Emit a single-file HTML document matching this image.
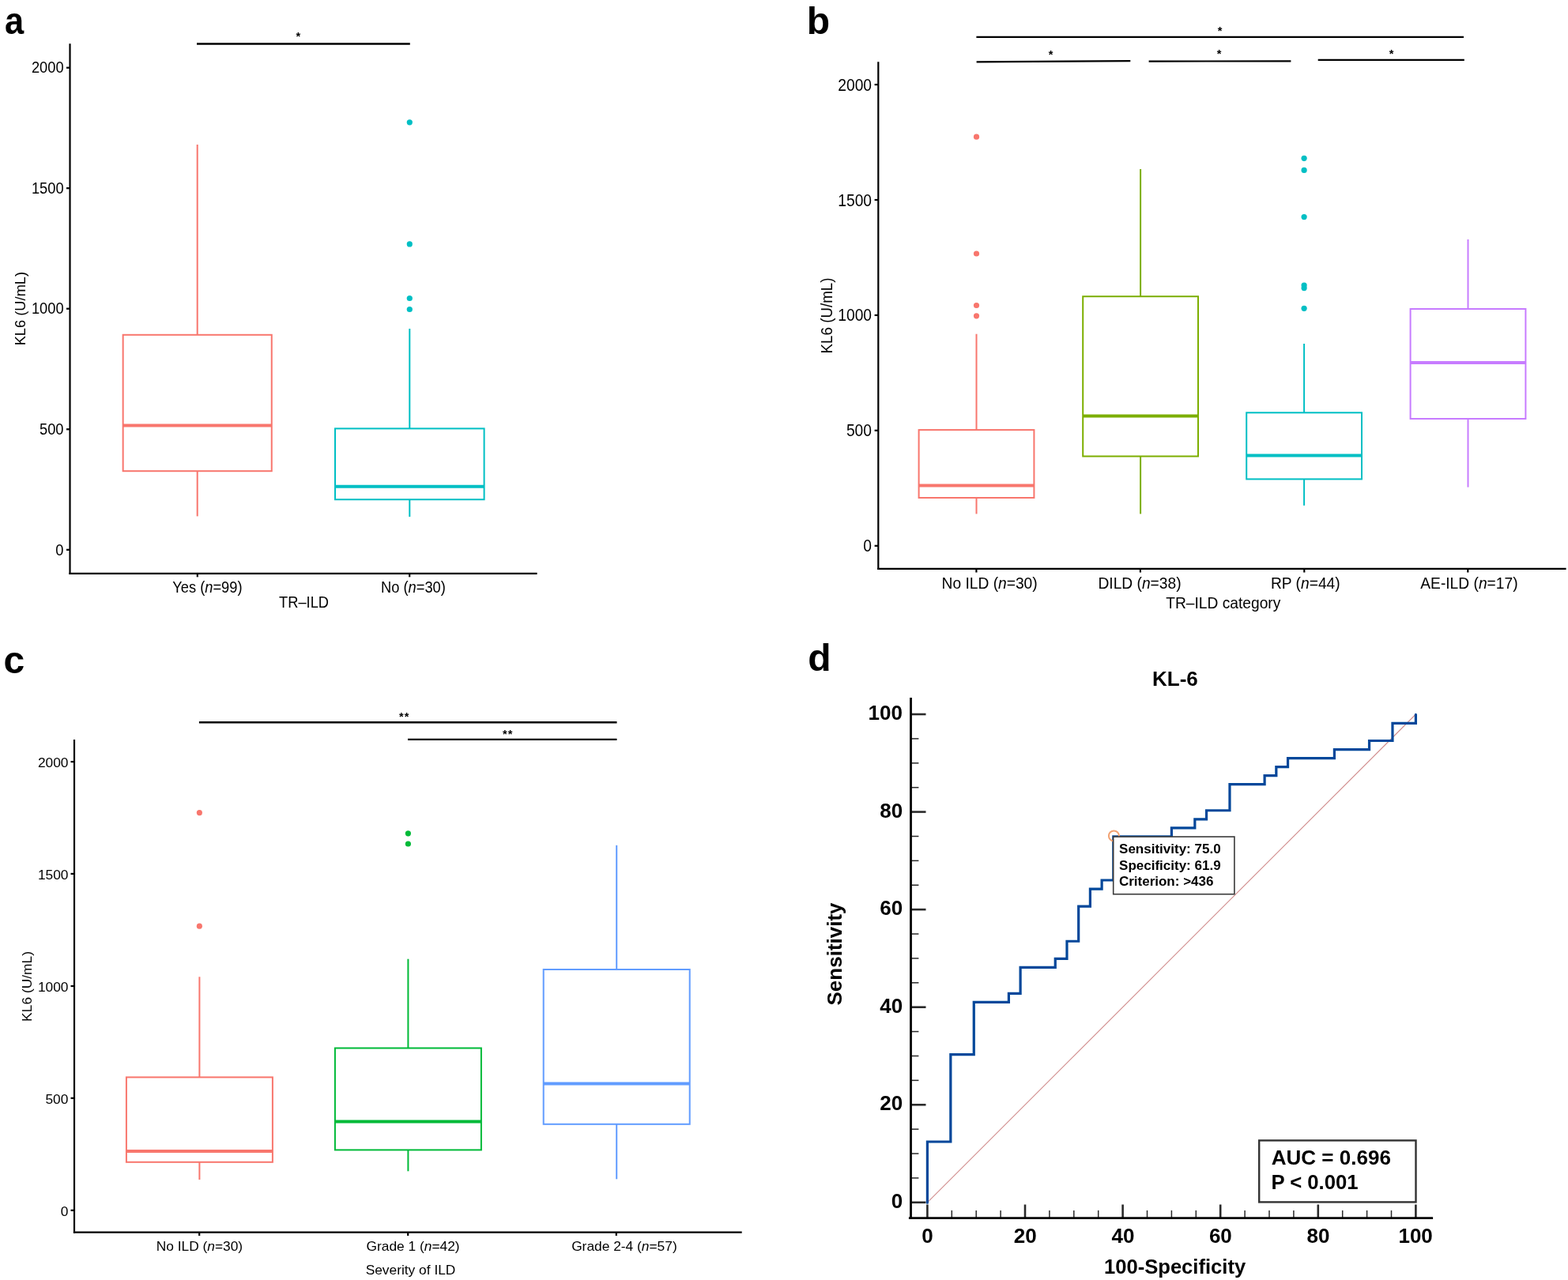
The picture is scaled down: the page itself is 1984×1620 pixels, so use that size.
<!DOCTYPE html>
<html><head><meta charset="utf-8"><title>KL-6 figure</title>
<style>html,body{margin:0;padding:0;background:#fff;} svg{display:block;} text{font-family:"Liberation Sans",Arial,sans-serif;fill:#000;}</style>
</head><body>
<svg width="1984" height="1620" viewBox="0 0 1984 1620">
<rect width="1984" height="1620" fill="#fff"/>
<text x="5.96" y="43.1" font-size="48" font-weight="bold" transform="translate(7.4 0) scale(0.905 1) translate(-7.4 0)">a</text>
<line x1="88.50" y1="55.20" x2="88.50" y2="726.90" stroke="#000" stroke-width="2.2" stroke-linecap="butt"/>
<line x1="87.40" y1="725.80" x2="679.60" y2="725.80" stroke="#000" stroke-width="2.2" stroke-linecap="butt"/>
<line x1="84.00" y1="85.70" x2="88.50" y2="85.70" stroke="#000" stroke-width="2.2" stroke-linecap="butt"/>
<text x="39.91" y="92.50" font-size="18.3" transform="matrix(1 0 0 1.11 0 -10.175)">2000</text>
<line x1="84.00" y1="238.20" x2="88.50" y2="238.20" stroke="#000" stroke-width="2.2" stroke-linecap="butt"/>
<text x="39.91" y="245.00" font-size="18.3" transform="matrix(1 0 0 1.11 0 -26.950)">1500</text>
<line x1="84.00" y1="390.70" x2="88.50" y2="390.70" stroke="#000" stroke-width="2.2" stroke-linecap="butt"/>
<text x="39.91" y="397.50" font-size="18.3" transform="matrix(1 0 0 1.11 0 -43.725)">1000</text>
<line x1="84.00" y1="543.30" x2="88.50" y2="543.30" stroke="#000" stroke-width="2.2" stroke-linecap="butt"/>
<text x="49.97" y="550.10" font-size="18.3" transform="matrix(1 0 0 1.11 0 -60.511)">500</text>
<line x1="84.00" y1="695.80" x2="88.50" y2="695.80" stroke="#000" stroke-width="2.2" stroke-linecap="butt"/>
<text x="70.28" y="702.60" font-size="18.3" transform="matrix(1 0 0 1.11 0 -77.286)">0</text>
<line x1="249.80" y1="725.80" x2="249.80" y2="730.30" stroke="#000" stroke-width="2.2" stroke-linecap="butt"/>
<line x1="518.20" y1="725.80" x2="518.20" y2="730.30" stroke="#000" stroke-width="2.2" stroke-linecap="butt"/>
<text x="218.25" y="749.60" font-size="18.3" transform="matrix(1 0 0 1.055 0 -41.228)">Yes (<tspan font-style='italic'>n</tspan>=99)</text>
<text x="482.04" y="749.60" font-size="18.3" transform="matrix(1 0 0 1.055 0 -41.228)">No (<tspan font-style='italic'>n</tspan>=30)</text>
<text x="353.03" y="768.80" font-size="18.3" transform="matrix(1 0 0 1.055 0 -42.284)">TR–ILD</text>
<text x="0" y="0" font-size="18.3" transform="translate(32.00 437.36) rotate(-90) scale(1 1.03)">KL6 (U/mL)</text>
<line x1="249.00" y1="55.50" x2="518.80" y2="55.50" stroke="#000" stroke-width="2.3" stroke-linecap="butt"/>
<text x="374.57" y="51.32" font-size="14.5" font-weight="bold">*</text>
<line x1="249.70" y1="183.00" x2="249.70" y2="423.80" stroke="#F8766D" stroke-width="2" stroke-linecap="butt"/>
<line x1="249.70" y1="596.20" x2="249.70" y2="653.40" stroke="#F8766D" stroke-width="2" stroke-linecap="butt"/>
<rect x="155.65" y="423.80" width="188.10" height="172.40" fill="none" stroke="#F8766D" stroke-width="2"/>
<line x1="155.65" y1="538.50" x2="343.75" y2="538.50" stroke="#F8766D" stroke-width="4" stroke-linecap="butt"/>
<line x1="518.30" y1="416.00" x2="518.30" y2="542.40" stroke="#00BFC4" stroke-width="2" stroke-linecap="butt"/>
<line x1="518.30" y1="632.20" x2="518.30" y2="654.00" stroke="#00BFC4" stroke-width="2" stroke-linecap="butt"/>
<rect x="424.00" y="542.40" width="188.60" height="89.80" fill="none" stroke="#00BFC4" stroke-width="2"/>
<line x1="424.00" y1="615.80" x2="612.60" y2="615.80" stroke="#00BFC4" stroke-width="4" stroke-linecap="butt"/>
<circle cx="518.30" cy="154.80" r="3.6" fill="#00BFC4"/>
<circle cx="518.30" cy="308.90" r="3.6" fill="#00BFC4"/>
<circle cx="518.30" cy="377.50" r="3.6" fill="#00BFC4"/>
<circle cx="518.30" cy="391.50" r="3.6" fill="#00BFC4"/>
<text x="1020.84" y="43.10" font-size="48" font-weight="bold">b</text>
<line x1="1111.30" y1="78.30" x2="1111.30" y2="721.00" stroke="#000" stroke-width="2.2" stroke-linecap="butt"/>
<line x1="1110.20" y1="719.90" x2="1981.60" y2="719.90" stroke="#000" stroke-width="2.2" stroke-linecap="butt"/>
<line x1="1106.60" y1="107.10" x2="1111.30" y2="107.10" stroke="#000" stroke-width="2.2" stroke-linecap="butt"/>
<text x="1060.34" y="114.70" font-size="19.2" transform="matrix(1 0 0 1.16 0 -18.352)">2000</text>
<line x1="1106.60" y1="253.00" x2="1111.30" y2="253.00" stroke="#000" stroke-width="2.2" stroke-linecap="butt"/>
<text x="1060.34" y="260.60" font-size="19.2" transform="matrix(1 0 0 1.16 0 -41.696)">1500</text>
<line x1="1106.60" y1="398.90" x2="1111.30" y2="398.90" stroke="#000" stroke-width="2.2" stroke-linecap="butt"/>
<text x="1060.34" y="406.50" font-size="19.2" transform="matrix(1 0 0 1.16 0 -65.040)">1000</text>
<line x1="1106.60" y1="544.80" x2="1111.30" y2="544.80" stroke="#000" stroke-width="2.2" stroke-linecap="butt"/>
<text x="1070.90" y="552.40" font-size="19.2" transform="matrix(1 0 0 1.16 0 -88.384)">500</text>
<line x1="1106.60" y1="690.80" x2="1111.30" y2="690.80" stroke="#000" stroke-width="2.2" stroke-linecap="butt"/>
<text x="1092.22" y="698.40" font-size="19.2" transform="matrix(1 0 0 1.16 0 -111.744)">0</text>
<line x1="1235.40" y1="719.90" x2="1235.40" y2="724.50" stroke="#000" stroke-width="2.2" stroke-linecap="butt"/>
<line x1="1442.90" y1="719.90" x2="1442.90" y2="724.50" stroke="#000" stroke-width="2.2" stroke-linecap="butt"/>
<line x1="1650.30" y1="719.90" x2="1650.30" y2="724.50" stroke="#000" stroke-width="2.2" stroke-linecap="butt"/>
<line x1="1857.30" y1="719.90" x2="1857.30" y2="724.50" stroke="#000" stroke-width="2.2" stroke-linecap="butt"/>
<text x="1191.56" y="744.80" font-size="19.2" transform="matrix(1 0 0 1.09 0 -67.032)">No ILD (<tspan font-style='italic'>n</tspan>=30)</text>
<text x="1389.46" y="744.80" font-size="19.2" transform="matrix(1 0 0 1.09 0 -67.032)">DILD (<tspan font-style='italic'>n</tspan>=38)</text>
<text x="1607.96" y="744.80" font-size="19.2" transform="matrix(1 0 0 1.09 0 -67.032)">RP (<tspan font-style='italic'>n</tspan>=44)</text>
<text x="1797.30" y="744.80" font-size="19.2" transform="matrix(1 0 0 1.09 0 -67.032)">AE-ILD (<tspan font-style='italic'>n</tspan>=17)</text>
<text x="1475.22" y="770.30" font-size="19.2" transform="matrix(1 0 0 1.09 0 -69.327)">TR–ILD category</text>
<text x="0" y="0" font-size="18.8" transform="translate(1052.50 447.50) rotate(-90) scale(1 1.07)">KL6 (U/mL)</text>
<line x1="1235.40" y1="46.90" x2="1852.00" y2="46.90" stroke="#000" stroke-width="2.2" stroke-linecap="butt"/>
<line x1="1235.60" y1="78.30" x2="1430.30" y2="77.20" stroke="#000" stroke-width="2.2" stroke-linecap="butt"/>
<line x1="1453.60" y1="77.60" x2="1633.40" y2="77.40" stroke="#000" stroke-width="2.2" stroke-linecap="butt"/>
<line x1="1667.70" y1="75.90" x2="1852.80" y2="75.90" stroke="#000" stroke-width="2.2" stroke-linecap="butt"/>
<text x="1540.77" y="43.62" font-size="14.5" font-weight="bold">*</text>
<text x="1326.87" y="73.62" font-size="14.5" font-weight="bold">*</text>
<text x="1539.87" y="72.72" font-size="14.5" font-weight="bold">*</text>
<text x="1757.77" y="72.72" font-size="14.5" font-weight="bold">*</text>
<line x1="1235.50" y1="422.70" x2="1235.50" y2="544.10" stroke="#F8766D" stroke-width="2" stroke-linecap="butt"/>
<line x1="1235.50" y1="630.00" x2="1235.50" y2="650.40" stroke="#F8766D" stroke-width="2" stroke-linecap="butt"/>
<rect x="1162.60" y="544.10" width="145.80" height="85.90" fill="none" stroke="#F8766D" stroke-width="2"/>
<line x1="1162.60" y1="614.50" x2="1308.40" y2="614.50" stroke="#F8766D" stroke-width="4" stroke-linecap="butt"/>
<circle cx="1235.50" cy="173.20" r="3.6" fill="#F8766D"/>
<circle cx="1235.50" cy="321.00" r="3.6" fill="#F8766D"/>
<circle cx="1235.50" cy="386.50" r="3.6" fill="#F8766D"/>
<circle cx="1235.50" cy="399.80" r="3.6" fill="#F8766D"/>
<line x1="1443.10" y1="214.00" x2="1443.10" y2="375.20" stroke="#7CAE00" stroke-width="2" stroke-linecap="butt"/>
<line x1="1443.10" y1="577.50" x2="1443.10" y2="650.40" stroke="#7CAE00" stroke-width="2" stroke-linecap="butt"/>
<rect x="1370.20" y="375.20" width="145.80" height="202.30" fill="none" stroke="#7CAE00" stroke-width="2"/>
<line x1="1370.20" y1="526.50" x2="1516.00" y2="526.50" stroke="#7CAE00" stroke-width="4" stroke-linecap="butt"/>
<line x1="1650.10" y1="435.00" x2="1650.10" y2="522.30" stroke="#00BFC4" stroke-width="2" stroke-linecap="butt"/>
<line x1="1650.10" y1="606.40" x2="1650.10" y2="639.80" stroke="#00BFC4" stroke-width="2" stroke-linecap="butt"/>
<rect x="1577.20" y="522.30" width="145.80" height="84.10" fill="none" stroke="#00BFC4" stroke-width="2"/>
<line x1="1577.20" y1="576.50" x2="1723.00" y2="576.50" stroke="#00BFC4" stroke-width="4" stroke-linecap="butt"/>
<circle cx="1650.10" cy="200.30" r="3.6" fill="#00BFC4"/>
<circle cx="1650.10" cy="215.40" r="3.6" fill="#00BFC4"/>
<circle cx="1650.10" cy="274.60" r="3.6" fill="#00BFC4"/>
<circle cx="1650.10" cy="361.10" r="3.6" fill="#00BFC4"/>
<circle cx="1650.10" cy="364.60" r="3.6" fill="#00BFC4"/>
<circle cx="1650.10" cy="390.30" r="3.6" fill="#00BFC4"/>
<line x1="1857.50" y1="303.00" x2="1857.50" y2="391.00" stroke="#C77CFF" stroke-width="2" stroke-linecap="butt"/>
<line x1="1857.50" y1="530.00" x2="1857.50" y2="616.60" stroke="#C77CFF" stroke-width="2" stroke-linecap="butt"/>
<rect x="1784.60" y="391.00" width="145.80" height="139.00" fill="none" stroke="#C77CFF" stroke-width="2"/>
<line x1="1784.60" y1="458.90" x2="1930.40" y2="458.90" stroke="#C77CFF" stroke-width="4" stroke-linecap="butt"/>
<text x="4.48" y="851.70" font-size="48" font-weight="bold">c</text>
<line x1="94.00" y1="936.10" x2="94.00" y2="1560.80" stroke="#000" stroke-width="2.2" stroke-linecap="butt"/>
<line x1="92.90" y1="1559.70" x2="938.70" y2="1559.70" stroke="#000" stroke-width="2.2" stroke-linecap="butt"/>
<line x1="89.50" y1="964.10" x2="94.00" y2="964.10" stroke="#000" stroke-width="2.2" stroke-linecap="butt"/>
<text x="47.88" y="970.90" font-size="17.35">2000</text>
<line x1="89.50" y1="1105.90" x2="94.00" y2="1105.90" stroke="#000" stroke-width="2.2" stroke-linecap="butt"/>
<text x="47.88" y="1112.70" font-size="17.35">1500</text>
<line x1="89.50" y1="1248.00" x2="94.00" y2="1248.00" stroke="#000" stroke-width="2.2" stroke-linecap="butt"/>
<text x="47.88" y="1254.80" font-size="17.35">1000</text>
<line x1="89.50" y1="1389.80" x2="94.00" y2="1389.80" stroke="#000" stroke-width="2.2" stroke-linecap="butt"/>
<text x="57.42" y="1396.60" font-size="17.35">500</text>
<line x1="89.50" y1="1531.80" x2="94.00" y2="1531.80" stroke="#000" stroke-width="2.2" stroke-linecap="butt"/>
<text x="76.68" y="1538.60" font-size="17.35">0</text>
<line x1="252.20" y1="1559.70" x2="252.20" y2="1564.00" stroke="#000" stroke-width="2.2" stroke-linecap="butt"/>
<line x1="516.20" y1="1559.70" x2="516.20" y2="1564.00" stroke="#000" stroke-width="2.2" stroke-linecap="butt"/>
<line x1="779.80" y1="1559.70" x2="779.80" y2="1564.00" stroke="#000" stroke-width="2.2" stroke-linecap="butt"/>
<text x="197.71" y="1583.20" font-size="17.35">No ILD (<tspan font-style='italic'>n</tspan>=30)</text>
<text x="463.53" y="1583.20" font-size="17.35">Grade 1 (<tspan font-style='italic'>n</tspan>=42)</text>
<text x="723.13" y="1583.20" font-size="17.35">Grade 2-4 (<tspan font-style='italic'>n</tspan>=57)</text>
<text x="462.63" y="1613.40" font-size="17.35">Severity of ILD</text>
<text x="0" y="0" font-size="17.4" transform="translate(39.90 1292.89) rotate(-90)">KL6 (U/mL)</text>
<line x1="251.90" y1="914.20" x2="780.50" y2="914.20" stroke="#000" stroke-width="2.4" stroke-linecap="butt"/>
<line x1="516.00" y1="935.90" x2="780.50" y2="935.90" stroke="#000" stroke-width="2.4" stroke-linecap="butt"/>
<text x="504.89" y="911.72" font-size="14.5" font-weight="bold" letter-spacing="1.3">**</text>
<text x="635.90" y="933.92" font-size="14.5" font-weight="bold" letter-spacing="1.3">**</text>
<line x1="252.40" y1="1236.30" x2="252.40" y2="1363.40" stroke="#F8766D" stroke-width="2" stroke-linecap="butt"/>
<line x1="252.40" y1="1470.80" x2="252.40" y2="1493.00" stroke="#F8766D" stroke-width="2" stroke-linecap="butt"/>
<rect x="159.90" y="1363.40" width="185.00" height="107.40" fill="none" stroke="#F8766D" stroke-width="2"/>
<line x1="159.90" y1="1456.90" x2="344.90" y2="1456.90" stroke="#F8766D" stroke-width="4" stroke-linecap="butt"/>
<circle cx="252.40" cy="1028.60" r="3.6" fill="#F8766D"/>
<circle cx="252.40" cy="1172.20" r="3.6" fill="#F8766D"/>
<line x1="516.40" y1="1213.70" x2="516.40" y2="1326.50" stroke="#00BA38" stroke-width="2" stroke-linecap="butt"/>
<line x1="516.40" y1="1455.40" x2="516.40" y2="1482.30" stroke="#00BA38" stroke-width="2" stroke-linecap="butt"/>
<rect x="423.90" y="1326.50" width="185.00" height="128.90" fill="none" stroke="#00BA38" stroke-width="2"/>
<line x1="423.90" y1="1419.60" x2="608.90" y2="1419.60" stroke="#00BA38" stroke-width="4" stroke-linecap="butt"/>
<circle cx="516.40" cy="1054.80" r="3.6" fill="#00BA38"/>
<circle cx="516.40" cy="1068.00" r="3.6" fill="#00BA38"/>
<line x1="780.20" y1="1069.80" x2="780.20" y2="1227.00" stroke="#619CFF" stroke-width="2" stroke-linecap="butt"/>
<line x1="780.20" y1="1422.80" x2="780.20" y2="1492.30" stroke="#619CFF" stroke-width="2" stroke-linecap="butt"/>
<rect x="687.70" y="1227.00" width="185.00" height="195.80" fill="none" stroke="#619CFF" stroke-width="2"/>
<line x1="687.70" y1="1371.60" x2="872.70" y2="1371.60" stroke="#619CFF" stroke-width="4" stroke-linecap="butt"/>
<text x="1022.28" y="848.70" font-size="48" font-weight="bold">d</text>
<line x1="1173.40" y1="1521.80" x2="1791.40" y2="904.00" stroke="#D08C8C" stroke-width="1.1" stroke-linecap="butt"/>
<line x1="1152.50" y1="1521.80" x2="1171.50" y2="1521.80" stroke="#2a2a2a" stroke-width="2.6" stroke-linecap="butt"/>
<line x1="1173.40" y1="1541.60" x2="1173.40" y2="1524.50" stroke="#2a2a2a" stroke-width="2.6" stroke-linecap="butt"/>
<line x1="1152.50" y1="1490.91" x2="1162.40" y2="1490.91" stroke="#2a2a2a" stroke-width="1.5" stroke-linecap="butt"/>
<line x1="1204.30" y1="1541.60" x2="1204.30" y2="1531.90" stroke="#2a2a2a" stroke-width="1.5" stroke-linecap="butt"/>
<line x1="1152.50" y1="1460.02" x2="1162.40" y2="1460.02" stroke="#2a2a2a" stroke-width="1.5" stroke-linecap="butt"/>
<line x1="1235.20" y1="1541.60" x2="1235.20" y2="1531.90" stroke="#2a2a2a" stroke-width="1.5" stroke-linecap="butt"/>
<line x1="1152.50" y1="1429.13" x2="1162.40" y2="1429.13" stroke="#2a2a2a" stroke-width="1.5" stroke-linecap="butt"/>
<line x1="1266.10" y1="1541.60" x2="1266.10" y2="1531.90" stroke="#2a2a2a" stroke-width="1.5" stroke-linecap="butt"/>
<line x1="1152.50" y1="1398.24" x2="1171.50" y2="1398.24" stroke="#2a2a2a" stroke-width="2.6" stroke-linecap="butt"/>
<line x1="1297.00" y1="1541.60" x2="1297.00" y2="1524.50" stroke="#2a2a2a" stroke-width="2.6" stroke-linecap="butt"/>
<line x1="1152.50" y1="1367.35" x2="1162.40" y2="1367.35" stroke="#2a2a2a" stroke-width="1.5" stroke-linecap="butt"/>
<line x1="1327.90" y1="1541.60" x2="1327.90" y2="1531.90" stroke="#2a2a2a" stroke-width="1.5" stroke-linecap="butt"/>
<line x1="1152.50" y1="1336.46" x2="1162.40" y2="1336.46" stroke="#2a2a2a" stroke-width="1.5" stroke-linecap="butt"/>
<line x1="1358.80" y1="1541.60" x2="1358.80" y2="1531.90" stroke="#2a2a2a" stroke-width="1.5" stroke-linecap="butt"/>
<line x1="1152.50" y1="1305.57" x2="1162.40" y2="1305.57" stroke="#2a2a2a" stroke-width="1.5" stroke-linecap="butt"/>
<line x1="1389.70" y1="1541.60" x2="1389.70" y2="1531.90" stroke="#2a2a2a" stroke-width="1.5" stroke-linecap="butt"/>
<line x1="1152.50" y1="1274.68" x2="1171.50" y2="1274.68" stroke="#2a2a2a" stroke-width="2.6" stroke-linecap="butt"/>
<line x1="1420.60" y1="1541.60" x2="1420.60" y2="1524.50" stroke="#2a2a2a" stroke-width="2.6" stroke-linecap="butt"/>
<line x1="1152.50" y1="1243.79" x2="1162.40" y2="1243.79" stroke="#2a2a2a" stroke-width="1.5" stroke-linecap="butt"/>
<line x1="1451.50" y1="1541.60" x2="1451.50" y2="1531.90" stroke="#2a2a2a" stroke-width="1.5" stroke-linecap="butt"/>
<line x1="1152.50" y1="1212.90" x2="1162.40" y2="1212.90" stroke="#2a2a2a" stroke-width="1.5" stroke-linecap="butt"/>
<line x1="1482.40" y1="1541.60" x2="1482.40" y2="1531.90" stroke="#2a2a2a" stroke-width="1.5" stroke-linecap="butt"/>
<line x1="1152.50" y1="1182.01" x2="1162.40" y2="1182.01" stroke="#2a2a2a" stroke-width="1.5" stroke-linecap="butt"/>
<line x1="1513.30" y1="1541.60" x2="1513.30" y2="1531.90" stroke="#2a2a2a" stroke-width="1.5" stroke-linecap="butt"/>
<line x1="1152.50" y1="1151.12" x2="1171.50" y2="1151.12" stroke="#2a2a2a" stroke-width="2.6" stroke-linecap="butt"/>
<line x1="1544.20" y1="1541.60" x2="1544.20" y2="1524.50" stroke="#2a2a2a" stroke-width="2.6" stroke-linecap="butt"/>
<line x1="1152.50" y1="1120.23" x2="1162.40" y2="1120.23" stroke="#2a2a2a" stroke-width="1.5" stroke-linecap="butt"/>
<line x1="1575.10" y1="1541.60" x2="1575.10" y2="1531.90" stroke="#2a2a2a" stroke-width="1.5" stroke-linecap="butt"/>
<line x1="1152.50" y1="1089.34" x2="1162.40" y2="1089.34" stroke="#2a2a2a" stroke-width="1.5" stroke-linecap="butt"/>
<line x1="1606.00" y1="1541.60" x2="1606.00" y2="1531.90" stroke="#2a2a2a" stroke-width="1.5" stroke-linecap="butt"/>
<line x1="1152.50" y1="1058.45" x2="1162.40" y2="1058.45" stroke="#2a2a2a" stroke-width="1.5" stroke-linecap="butt"/>
<line x1="1636.90" y1="1541.60" x2="1636.90" y2="1531.90" stroke="#2a2a2a" stroke-width="1.5" stroke-linecap="butt"/>
<line x1="1152.50" y1="1027.56" x2="1171.50" y2="1027.56" stroke="#2a2a2a" stroke-width="2.6" stroke-linecap="butt"/>
<line x1="1667.80" y1="1541.60" x2="1667.80" y2="1524.50" stroke="#2a2a2a" stroke-width="2.6" stroke-linecap="butt"/>
<line x1="1152.50" y1="996.67" x2="1162.40" y2="996.67" stroke="#2a2a2a" stroke-width="1.5" stroke-linecap="butt"/>
<line x1="1698.70" y1="1541.60" x2="1698.70" y2="1531.90" stroke="#2a2a2a" stroke-width="1.5" stroke-linecap="butt"/>
<line x1="1152.50" y1="965.78" x2="1162.40" y2="965.78" stroke="#2a2a2a" stroke-width="1.5" stroke-linecap="butt"/>
<line x1="1729.60" y1="1541.60" x2="1729.60" y2="1531.90" stroke="#2a2a2a" stroke-width="1.5" stroke-linecap="butt"/>
<line x1="1152.50" y1="934.89" x2="1162.40" y2="934.89" stroke="#2a2a2a" stroke-width="1.5" stroke-linecap="butt"/>
<line x1="1760.50" y1="1541.60" x2="1760.50" y2="1531.90" stroke="#2a2a2a" stroke-width="1.5" stroke-linecap="butt"/>
<line x1="1152.50" y1="904.00" x2="1171.50" y2="904.00" stroke="#2a2a2a" stroke-width="2.6" stroke-linecap="butt"/>
<line x1="1791.40" y1="1541.60" x2="1791.40" y2="1524.50" stroke="#2a2a2a" stroke-width="2.6" stroke-linecap="butt"/>
<line x1="1152.50" y1="883.00" x2="1152.50" y2="1542.90" stroke="#000" stroke-width="2.85" stroke-linecap="butt"/>
<line x1="1149.90" y1="1541.60" x2="1813.10" y2="1541.60" stroke="#000" stroke-width="2.6" stroke-linecap="butt"/>
<text x="1127.74" y="1528.80" font-size="26" font-weight="bold">0</text>
<text x="1166.25" y="1572.80" font-size="26" font-weight="bold">0</text>
<text x="1113.18" y="1405.24" font-size="26" font-weight="bold">20</text>
<text x="1282.70" y="1572.80" font-size="26" font-weight="bold">20</text>
<text x="1113.18" y="1281.68" font-size="26" font-weight="bold">40</text>
<text x="1406.43" y="1572.80" font-size="26" font-weight="bold">40</text>
<text x="1113.18" y="1158.12" font-size="26" font-weight="bold">60</text>
<text x="1529.90" y="1572.80" font-size="26" font-weight="bold">60</text>
<text x="1113.18" y="1034.56" font-size="26" font-weight="bold">80</text>
<text x="1653.50" y="1572.80" font-size="26" font-weight="bold">80</text>
<text x="1098.62" y="911.00" font-size="26" font-weight="bold">100</text>
<text x="1769.43" y="1572.80" font-size="26" font-weight="bold">100</text>
<text x="1457.98" y="867.70" font-size="26" font-weight="bold">KL-6</text>
<text x="0" y="0" font-size="26" font-weight="bold" transform="translate(1064.60 1272.48) rotate(-90)">Sensitivity</text>
<text x="1396.96" y="1612.30" font-size="25.6" font-weight="bold">100-Specificity</text>
<polyline points="1173.40,1522.20 1173.40,1444.98 1202.83,1444.98 1202.83,1334.65 1232.26,1334.65 1232.26,1268.46 1276.40,1268.46 1276.40,1257.43 1291.11,1257.43 1291.11,1224.33 1335.26,1224.33 1335.26,1213.30 1349.97,1213.30 1349.97,1191.24 1364.69,1191.24 1364.69,1147.11 1379.40,1147.11 1379.40,1125.04 1394.11,1125.04 1394.11,1114.01 1408.83,1114.01 1408.83,1058.85 1482.40,1058.85 1482.40,1047.82 1511.83,1047.82 1511.83,1036.79 1526.54,1036.79 1526.54,1025.75 1555.97,1025.75 1555.97,992.66 1600.11,992.66 1600.11,981.62 1614.83,981.62 1614.83,970.59 1629.54,970.59 1629.54,959.56 1688.40,959.56 1688.40,948.53 1732.54,948.53 1732.54,937.50 1761.97,937.50 1761.97,915.43 1791.40,915.43 1791.40,904.40" fill="none" stroke="#02479A" stroke-width="3.2" stroke-linejoin="miter" stroke-linecap="round"/>
<circle cx="1409.4" cy="1057.9" r="6.5" fill="none" stroke="#F2A272" stroke-width="2"/>
<rect x="1408.7" y="1059.0" width="153.2" height="72.7" fill="#fff" stroke="#3a3a3a" stroke-width="1.6"/>
<text x="1416.09" y="1080.00" font-size="17" font-weight="bold">Sensitivity: 75.0</text>
<text x="1416.09" y="1100.70" font-size="17" font-weight="bold">Specificity: 61.9</text>
<text x="1415.92" y="1121.30" font-size="17" font-weight="bold">Criterion: &gt;436</text>
<rect x="1593.2" y="1443.4" width="198.3" height="78.0" fill="none" stroke="#333" stroke-width="2.4"/>
<text x="1608.82" y="1474.10" font-size="26" font-weight="bold">AUC = 0.696</text>
<text x="1608.40" y="1505.40" font-size="25.7" font-weight="bold">P &lt; 0.001</text>
</svg>
</body></html>
